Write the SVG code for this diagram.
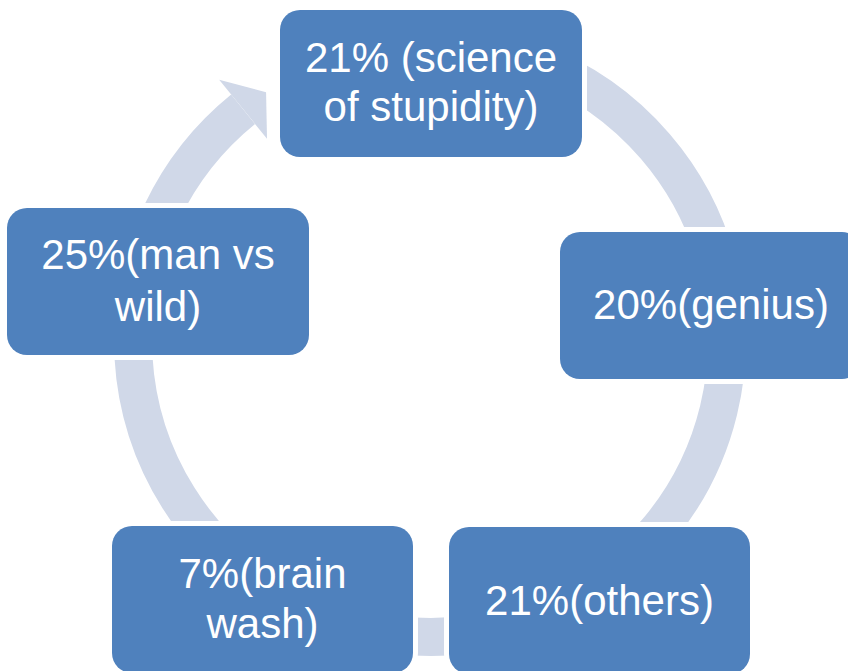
<svg xmlns="http://www.w3.org/2000/svg" width="848" height="671" viewBox="0 0 848 671">
<style>
.ring{fill:none;stroke:#D0D8E8;stroke-width:38;stroke-linecap:butt}
.head{fill:#D0D8E8}
.box{fill:#4F81BD;stroke:#FFFFFF;stroke-width:10;paint-order:stroke}
.lbl{font-family:"Liberation Sans",Arial,sans-serif;font-size:42px;fill:#FFFFFF;text-anchor:middle}
</style>
<rect width="848" height="671" fill="#FFFFFF"/>
<g id="connectors">
<path class="ring" d="M404.11,44.13 A297,297 0 1 1 243.09,109.19"/>
<polygon class="head" points="219.18,79.65 266.07,92.33 267.01,138.72"/>
</g>
<g id="node-top">
<rect class="box" x="280" y="10" width="302" height="147" rx="20" ry="20"/>
<text class="lbl" x="431" y="72">21% (science</text>
<text class="lbl" x="431" y="121">of stupidity)</text>
</g>
<g id="node-right">
<rect class="box" x="560" y="232" width="302" height="147" rx="20" ry="20"/>
<text class="lbl" x="711" y="319">20%(genius)</text>
</g>
<g id="node-bottom-right">
<rect class="box" x="449" y="527" width="301" height="147" rx="20" ry="20"/>
<text class="lbl" x="599.5" y="615">21%(others)</text>
</g>
<g id="node-bottom-left">
<rect class="box" x="112" y="526" width="301" height="147" rx="20" ry="20"/>
<text class="lbl" x="262.5" y="588">7%(brain</text>
<text class="lbl" x="262.5" y="638">wash)</text>
</g>
<g id="node-left">
<rect class="box" x="7" y="208" width="302" height="147" rx="20" ry="20"/>
<text class="lbl" x="158" y="269">25%(man vs</text>
<text class="lbl" x="158" y="321">wild)</text>
</g>
</svg>
